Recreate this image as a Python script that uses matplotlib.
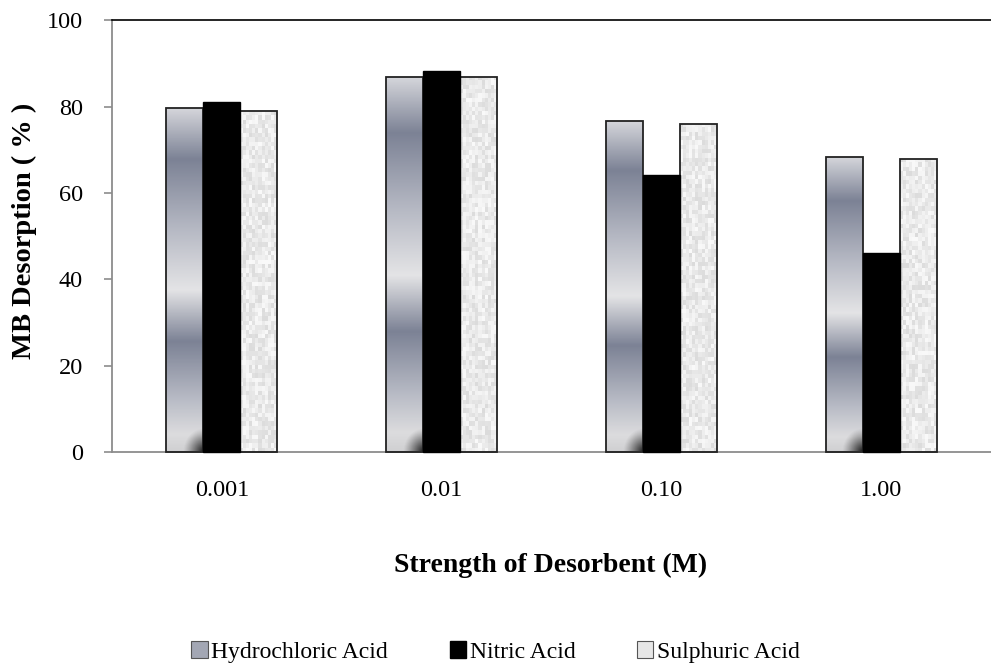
import numpy as np
import matplotlib
matplotlib.use("Agg")
import matplotlib.pyplot as plt
from matplotlib.patches import Patch
from matplotlib.colors import LinearSegmentedColormap

plt.rcParams['font.family'] = ['Liberation Serif', 'DejaVu Serif']

# ---- data ----
strengths = ['0.001', '0.01', '0.10', '1.00']
hydrochloric = [79.7, 86.8, 76.7, 68.3]
nitric = [81.1, 88.3, 64.2, 46.1]
sulphuric = [78.9, 86.8, 76.0, 67.9]
series_names = ['Hydrochloric Acid', 'Nitric Acid', 'Sulphuric Acid']

# ---- styles ----
BAR_W = 0.168
AXIS_GRAY = '#8c8c8c'
metal = LinearSegmentedColormap.from_list('metal', [
    (0.00, '#d6d7dc'), (0.15, '#7c8295'), (0.35, '#b5b8c3'),
    (0.53, '#e4e4e6'), (0.68, '#7c8295'), (0.85, '#b9bcc6'),
    (0.95, '#dcdcde'), (1.00, '#d0d0d2')])


def speckle(nx, ny, seed):
    # deterministic grey "sand" texture
    i, j = np.meshgrid(np.arange(nx), np.arange(ny))
    h = np.sin(i * 12.9898 + j * 78.233 + seed * 37.719) * 43758.5453
    h = h - np.floor(h)
    v = 0.86 + 0.12 * h
    return np.dstack([v, v, v])


fig = plt.figure(figsize=(9.91, 6.69), dpi=100)
ax = fig.add_axes([0.113, 0.324, 0.887, 0.646])

x = np.arange(len(strengths))

b_hcl = ax.bar(x - BAR_W, hydrochloric, BAR_W, facecolor='none',
               edgecolor='#222222', linewidth=1.3, zorder=3, clip_on=False)
b_no3 = ax.bar(x, nitric, BAR_W, facecolor='black',
               edgecolor='black', linewidth=1.0, zorder=4, clip_on=False)
b_so4 = ax.bar(x + BAR_W, sulphuric, BAR_W, facecolor='none',
               edgecolor='#222222', linewidth=1.3, zorder=3, clip_on=False)

# metallic gradient fill for hydrochloric bars
grad = np.linspace(0, 1, 256).reshape(-1, 1)
for k, bar in enumerate(b_hcl):
    x0, w, h = bar.get_x(), bar.get_width(), bar.get_height()
    im = ax.imshow(grad, cmap=metal, aspect='auto', origin='upper',
                   extent=[x0, x0 + w, 0, h], zorder=2)
    im.set_clip_path(bar)
    # dark rounded shading at lower right corner
    yy, xx = np.mgrid[0:60, 0:60]
    d = np.hypot((59 - xx) / 59.0, yy / 59.0)
    alpha = np.clip(1.0 - d, 0, 1) ** 1.2 * 0.9
    rgba = np.zeros((60, 60, 4))
    rgba[..., 3] = alpha
    im2 = ax.imshow(rgba, aspect='auto', origin='lower',
                    extent=[x0 + w * 0.45, x0 + w, 0, 5.5], zorder=2.5)
    im2.set_clip_path(bar)

# speckled fill for sulphuric bars
for k, bar in enumerate(b_so4):
    x0, w, h = bar.get_x(), bar.get_width(), bar.get_height()
    tex = speckle(12, int(h / 1.0), k + 1)
    im = ax.imshow(tex, aspect='auto', origin='lower', interpolation='nearest',
                   extent=[x0, x0 + w, 0, h], zorder=2)
    im.set_clip_path(bar)

ax.set_xlim(-0.5, len(strengths) - 0.5)
ax.set_ylim(0, 100)
ax.set_yticks(np.arange(0, 101, 20))
ax.set_xticks(x)
ax.set_xticklabels(strengths)

ax.spines['right'].set_visible(False)
ax.spines['top'].set_color('black')
ax.spines['top'].set_linewidth(1.2)
ax.spines['left'].set_color(AXIS_GRAY)
ax.spines['bottom'].set_color(AXIS_GRAY)
ax.spines['left'].set_linewidth(1.3)
ax.spines['bottom'].set_linewidth(1.3)

ax.tick_params(axis='y', direction='out', length=6, width=1.2,
               color=AXIS_GRAY, labelsize=17.5, pad=15)
ax.tick_params(axis='x', length=0, labelsize=17.5, pad=20)

fig.text(0.025, 1 - 231 / 669, 'MB Desorption ( % )', fontsize=20.5,
         fontweight='bold', rotation=90, ha='center', va='center')
fig.text(0.556, 1 - 565 / 669, 'Strength of Desorbent (M)', fontsize=20,
         fontweight='bold', ha='center', va='center')

handles = [
    Patch(facecolor='#a3a7b4', edgecolor='#555555', linewidth=0.8),
    Patch(facecolor='black', edgecolor='black'),
    Patch(facecolor='#e6e6e6', edgecolor='#555555', linewidth=0.8),
]
fig.legend(handles, series_names, loc='center', ncol=3,
           bbox_to_anchor=(0.50, 1 - 652 / 669), frameon=False,
           fontsize=17, handlelength=0.7, handleheight=0.7,
           handletextpad=0.15, columnspacing=2.6)

fig.savefig('out.png', dpi=100, facecolor='white')
